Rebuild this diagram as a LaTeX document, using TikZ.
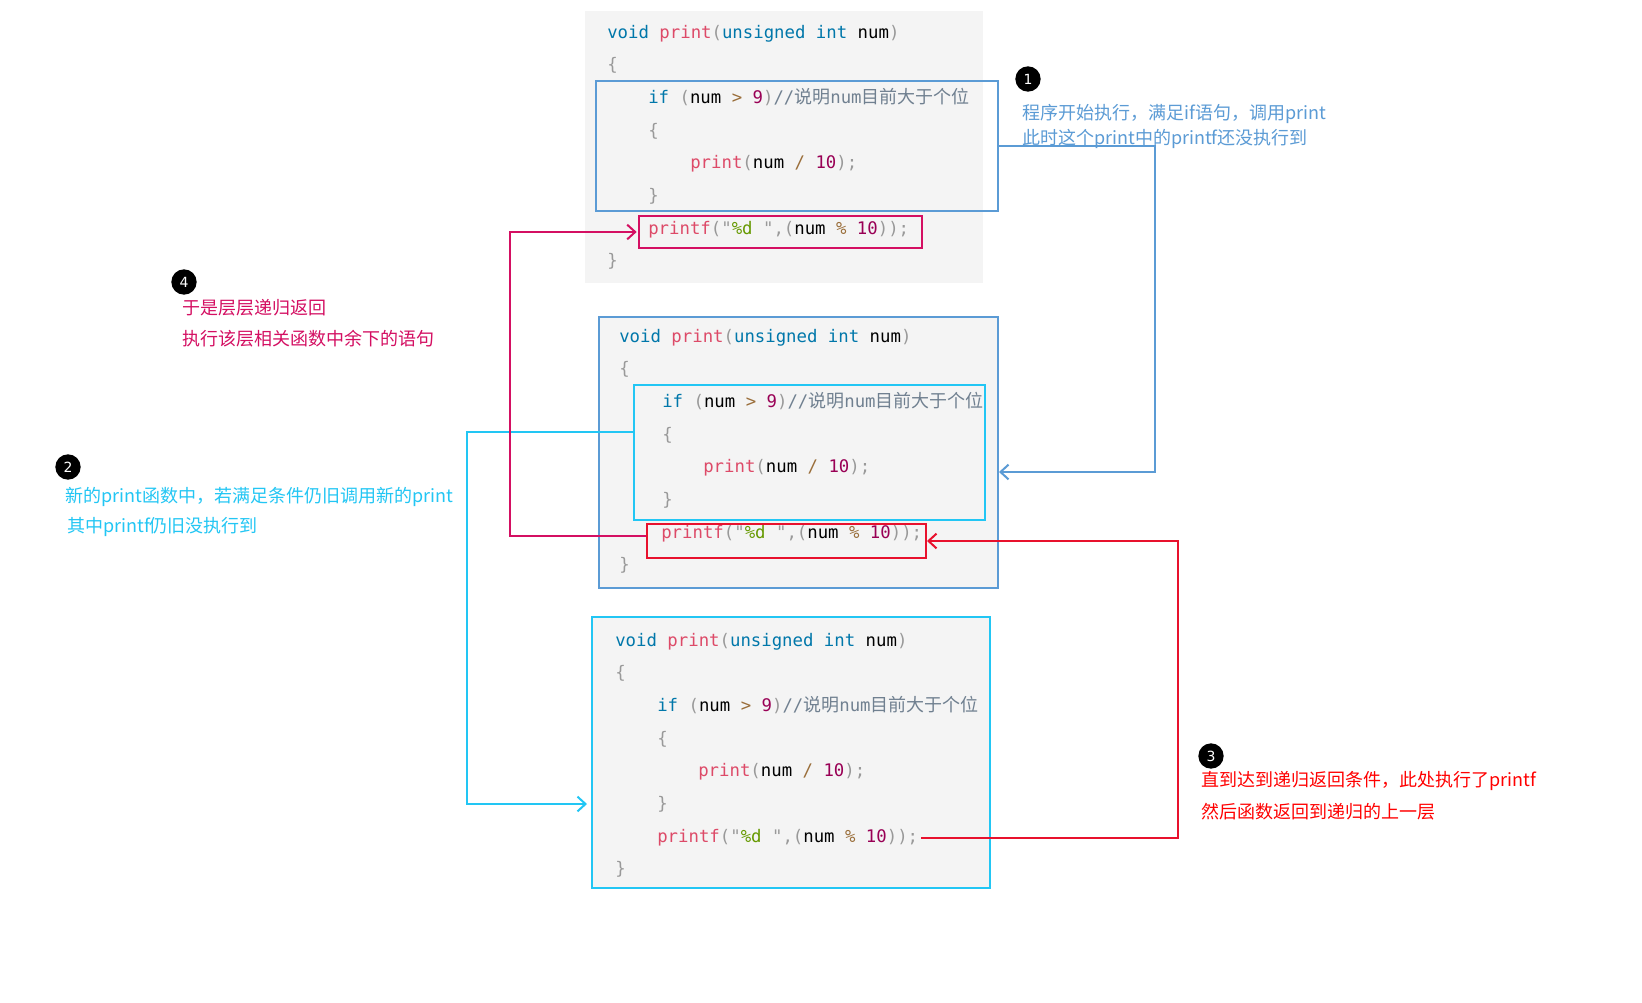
\documentclass[tikz,border=0pt]{standalone}
\usepackage{fontspec}
\usetikzlibrary{arrows.meta,fit}
\newfontfamily\codefont{DejaVu Sans Mono}
\newfontfamily\cjkfont{Noto Sans CJK SC}
\newfontfamily\numfont{DejaVu Sans}
\definecolor{codebg}{HTML}{F4F4F4}
\definecolor{ckw}{HTML}{0077AA}
\definecolor{cfn}{HTML}{DD4A68}
\definecolor{cpu}{HTML}{999999}
\definecolor{cnum}{HTML}{990055}
\definecolor{cop}{HTML}{9A6E3A}
\definecolor{cstr}{HTML}{669900}
\definecolor{ccm}{HTML}{708090}
\definecolor{lblue}{HTML}{5B9BD5}
\definecolor{lcyan}{HTML}{22C6F4}
\definecolor{lred}{HTML}{E8112D}
\definecolor{lpink}{HTML}{D40F62}
\definecolor{tred}{HTML}{FF0000}
\newcommand\QKw[1]{\textcolor{ckw}{#1}}
\newcommand\QFn[1]{\textcolor{cfn}{#1}}
\newcommand\QPu[1]{\textcolor{cpu}{#1}}
\newcommand\QNum[1]{\textcolor{cnum}{#1}}
\newcommand\QOp[1]{\textcolor{cop}{#1}}
\newcommand\QStr[1]{\textcolor{cstr}{#1}}
\newcommand\QCm[1]{\textcolor{ccm}{#1}}
\newcommand\QCj[1]{{\cjkfont\fontsize{13.5pt}{15pt}\selectfont #1}}
\newcommand\LVoid{\QKw{void} \QFn{print}\QPu{(}\QKw{unsigned} \QKw{int} num\QPu{)}}
\newcommand\LIf{\QKw{if} \QPu{(}num \QOp{>} \QNum{9}\QPu{)}\QCm{//\QCj{说明}num\QCj{目前大于个位}}}
\newcommand\LCall{\QFn{print}\QPu{(}num \QOp{/} \QNum{10}\QPu{);}}
\newcommand\LPrintf{\QFn{printf}\QPu{(}\QPu{"}\QStr{\%d}\QPu{\ "}\QPu{,(}num \QOp{\%} \QNum{10}\QPu{));}}
\tikzset{
  code/.style={anchor=base west, inner sep=0pt, font=\codefont\fontsize{13pt}{15pt}\selectfont},
  ann/.style={anchor=base west, inner sep=0pt, font=\cjkfont\fontsize{13.5pt}{16pt}\selectfont},
  badge/.style={circle, fill=black, text=white, inner sep=0pt, minimum size=19pt, font=\numfont\fontsize{10.5pt}{12pt}\selectfont},
  bgbox/.style={inner sep=0pt, fill=codebg},
  frame/.style={inner sep=0pt, line width=1.5pt},
  conn/.style={line width=1.5pt, -{Straight Barb[length=6pt,width=11pt,line width=1.5pt]}},
}
\begin{document}
\begin{tikzpicture}[x=0.75pt,y=-0.75pt]
\useasboundingbox[fill=white] (0,0) rectangle (1642,1003);

% ---------- block 1 ----------
\node[bgbox, fit={(585,11) (983,283)}] (bg1) {};
\node[code] (a1) at (607,38) {\LVoid};
\node[code] (a2) at (607,70.7) {\QPu{\{}};
\node[code] (a3) at (648,103.4) {\LIf};
\node[code] (a4) at (648,136.1) {\QPu{\{}};
\node[code] (a5) at (690,168.8) {\LCall};
\node[code] (a6) at (648,201.5) {\QPu{\}}};
\node[code] (a7) at (648,234.2) {\LPrintf};
\node[code] (a8) at (607,266.9) {\QPu{\}}};
\node[frame, draw=lblue, fit={(596,81) (998,211)}] (ifbox1) {};
\node[frame, draw=lpink, fit={(639,216) (922,248)}] (pbox1) {};

% ---------- block 2 ----------
\node[bgbox, frame, draw=lblue, fit={(599,317) (998,588)}] (box2) {};
\node[code] (b1) at (619,342) {\LVoid};
\node[code] (b2) at (619,374.7) {\QPu{\{}};
\node[code] (b3) at (662,407.4) {\LIf};
\node[code] (b4) at (662,440.1) {\QPu{\{}};
\node[code] (b5) at (703,472.8) {\LCall};
\node[code] (b6) at (662,505.5) {\QPu{\}}};
\node[code] (b7) at (661,538.2) {\LPrintf};
\node[code] (b8) at (619,570.9) {\QPu{\}}};
\node[frame, draw=lcyan, fit={(634,385) (985,520)}] (ifbox2) {};
\node[frame, draw=lred, fit={(647,524) (926,558)}] (rbox2) {};

% ---------- block 3 ----------
\node[bgbox, frame, draw=lcyan, fit={(592,617) (990,888)}] (box3) {};
\node[code] (c1) at (615,646) {\LVoid};
\node[code] (c2) at (615,678.7) {\QPu{\{}};
\node[code] (c3) at (657,711.4) {\LIf};
\node[code] (c4) at (657,744.1) {\QPu{\{}};
\node[code] (c5) at (698,776.8) {\LCall};
\node[code] (c6) at (657,809.5) {\QPu{\}}};
\node[code] (c7) at (657,842.2) {\LPrintf};
\node[code] (c8) at (615,874.9) {\QPu{\}}};

% ---------- annotations ----------
\node[badge] (n1) at (1028,79) {1};
\node[ann, text=lblue] (t1a) at (1022,119) {程序开始执行，满足if语句，调用print};
\node[ann, text=lblue] (t1b) at (1022,144) {此时这个print中的printf还没执行到};

\node[badge] (n4) at (184,282) {4};
\node[ann, text=lpink] (t4a) at (182,314) {于是层层递归返回};
\node[ann, text=lpink] (t4b) at (182,345) {执行该层相关函数中余下的语句};

\node[badge] (n2) at (68,467) {2};
\node[ann, text=lcyan] (t2a) at (65,502) {新的print函数中，若满足条件仍旧调用新的print};
\node[ann, text=lcyan] (t2b) at (67,532) {其中printf仍旧没执行到};

\node[badge] (n3) at (1211,756) {3};
\node[ann, text=tred] (t3a) at (1201,786) {直到达到递归返回条件，此处执行了printf};
\node[ann, text=tred] (t3b) at (1201,818) {然后函数返回到递归的上一层};

% ---------- connectors ----------
\coordinate (k1) at (1155,146);
\coordinate (k2) at (1155,472);
\draw[conn, lblue] (ifbox1.east |- k1) -- (k1) -- (k2) -- (box2.east |- k2);

\coordinate (k3) at (467,432);
\coordinate (k4) at (467,804);
\draw[conn, lcyan] (ifbox2.west |- k3) -- (k3) -- (k4) -- ([xshift=-3pt]box3.west |- k4);

\coordinate (k5) at (1178,838);
\coordinate (k6) at (1178,541);
\draw[conn, lred] ([xshift=2pt]c7.east |- k5) -- (k5) -- (k6) -- (rbox2.east |- k6);

\coordinate (k7) at (510,536);
\coordinate (k8) at (510,232);
\draw[conn, lpink] (rbox2.west |- k7) -- (k7) -- (k8) -- ([xshift=-1pt]pbox1.west |- k8);
\end{tikzpicture}
\end{document}
